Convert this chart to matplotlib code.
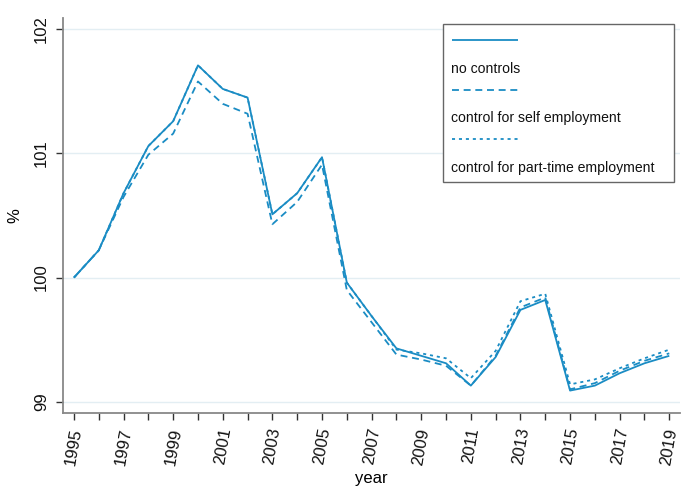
import matplotlib
matplotlib.use("Agg")
import matplotlib.pyplot as plt
from matplotlib.lines import Line2D
from matplotlib.patches import Rectangle

plt.rcParams['font.family'] = ['Liberation Sans', 'DejaVu Sans']
plt.rcParams['lines.scale_dashes'] = False

years = list(range(1995, 2020))

no_controls = [100.00, 100.22, 100.68, 101.06, 101.26, 101.71, 101.52, 101.45,
               100.51, 100.68, 100.97, 99.96, 99.69, 99.43, 99.37, 99.31,
               99.13, 99.36, 99.74, 99.82, 99.09, 99.13, 99.23, 99.31, 99.37]

self_employment = [100.00, 100.22, 100.65, 100.99, 101.16, 101.58, 101.40, 101.32,
                   100.43, 100.61, 100.91, 99.90, 99.64, 99.38, 99.34, 99.29,
                   99.13, 99.37, 99.76, 99.84, 99.10, 99.15, 99.25, 99.33, 99.39]

part_time = [100.00, 100.22, 100.68, 101.06, 101.26, 101.71, 101.52, 101.45,
             100.51, 100.68, 100.97, 99.96, 99.69, 99.42, 99.39, 99.35,
             99.19, 99.41, 99.81, 99.87, 99.14, 99.18, 99.27, 99.35, 99.42]

labels = ["no controls", "control for self employment", "control for part-time employment"]

line_color = "#1a8cc4"
dash_styles = [(0, ()), (0, (5.0, 3.4)), (0, (2.2, 2.8))]
series = [no_controls, self_employment, part_time]

fig = plt.figure(figsize=(6.85, 4.91), dpi=100)
ax = fig.add_axes([0.092, 0.159, 0.901, 0.804])

for vals, ls in zip(series, dash_styles):
    ax.plot(years, vals, color=line_color, linewidth=1.3, linestyle=ls)

ax.set_xlim(1994.56, 2019.44)
ax.set_ylim(98.91, 102.09)

# horizontal grid
ax.set_yticks([99, 100, 101, 102])
ax.yaxis.grid(True, color="#e3eef3", linewidth=1.0)
ax.set_axisbelow(True)

ax.set_xticks(years, minor=True)
ax.set_xticks(years[::2])
ax.set_xticklabels([str(y) for y in years[::2]], rotation=80, ha='center', va='top',
                   fontsize=12)
ax.set_yticklabels(["99", "100", "101", "102"], rotation=90, va='center', fontsize=12)

ax.tick_params(axis='both', which='both', direction='out', length=5, width=1,
               color="#333333", labelcolor="#111111")
ax.tick_params(axis='x', which='major', pad=5)
ax.tick_params(axis='y', which='major', pad=5)

for side in ['top', 'right']:
    ax.spines[side].set_visible(False)
for side in ['left', 'bottom']:
    ax.spines[side].set_color("#888888")
    ax.spines[side].set_linewidth(1.3)

ax.set_xlabel("year", fontsize=12)
ax.xaxis.set_label_coords(0.5, -0.148)
ax.set_ylabel("%", fontsize=12)
ax.yaxis.set_label_coords(-0.066, 0.5)

# legend with keys stacked above their labels
ax.add_patch(Rectangle((0.616, 0.585), 0.374, 0.400, transform=ax.transAxes,
                       facecolor="white", edgecolor="#666666", linewidth=1.0,
                       zorder=5, clip_on=False))
key_y = [0.944, 0.818, 0.694]
text_y = [0.871, 0.747, 0.620]
for ky, ty, ls, lab in zip(key_y, text_y, dash_styles, labels):
    ax.add_line(Line2D([0.630, 0.737], [ky, ky], transform=ax.transAxes,
                       color=line_color, linewidth=1.3, linestyle=ls, zorder=6))
    ax.text(0.629, ty, lab, transform=ax.transAxes, fontsize=10.1, va='center',
            ha='left', color="#111111", zorder=6)

fig.savefig("out.png", dpi=100)
